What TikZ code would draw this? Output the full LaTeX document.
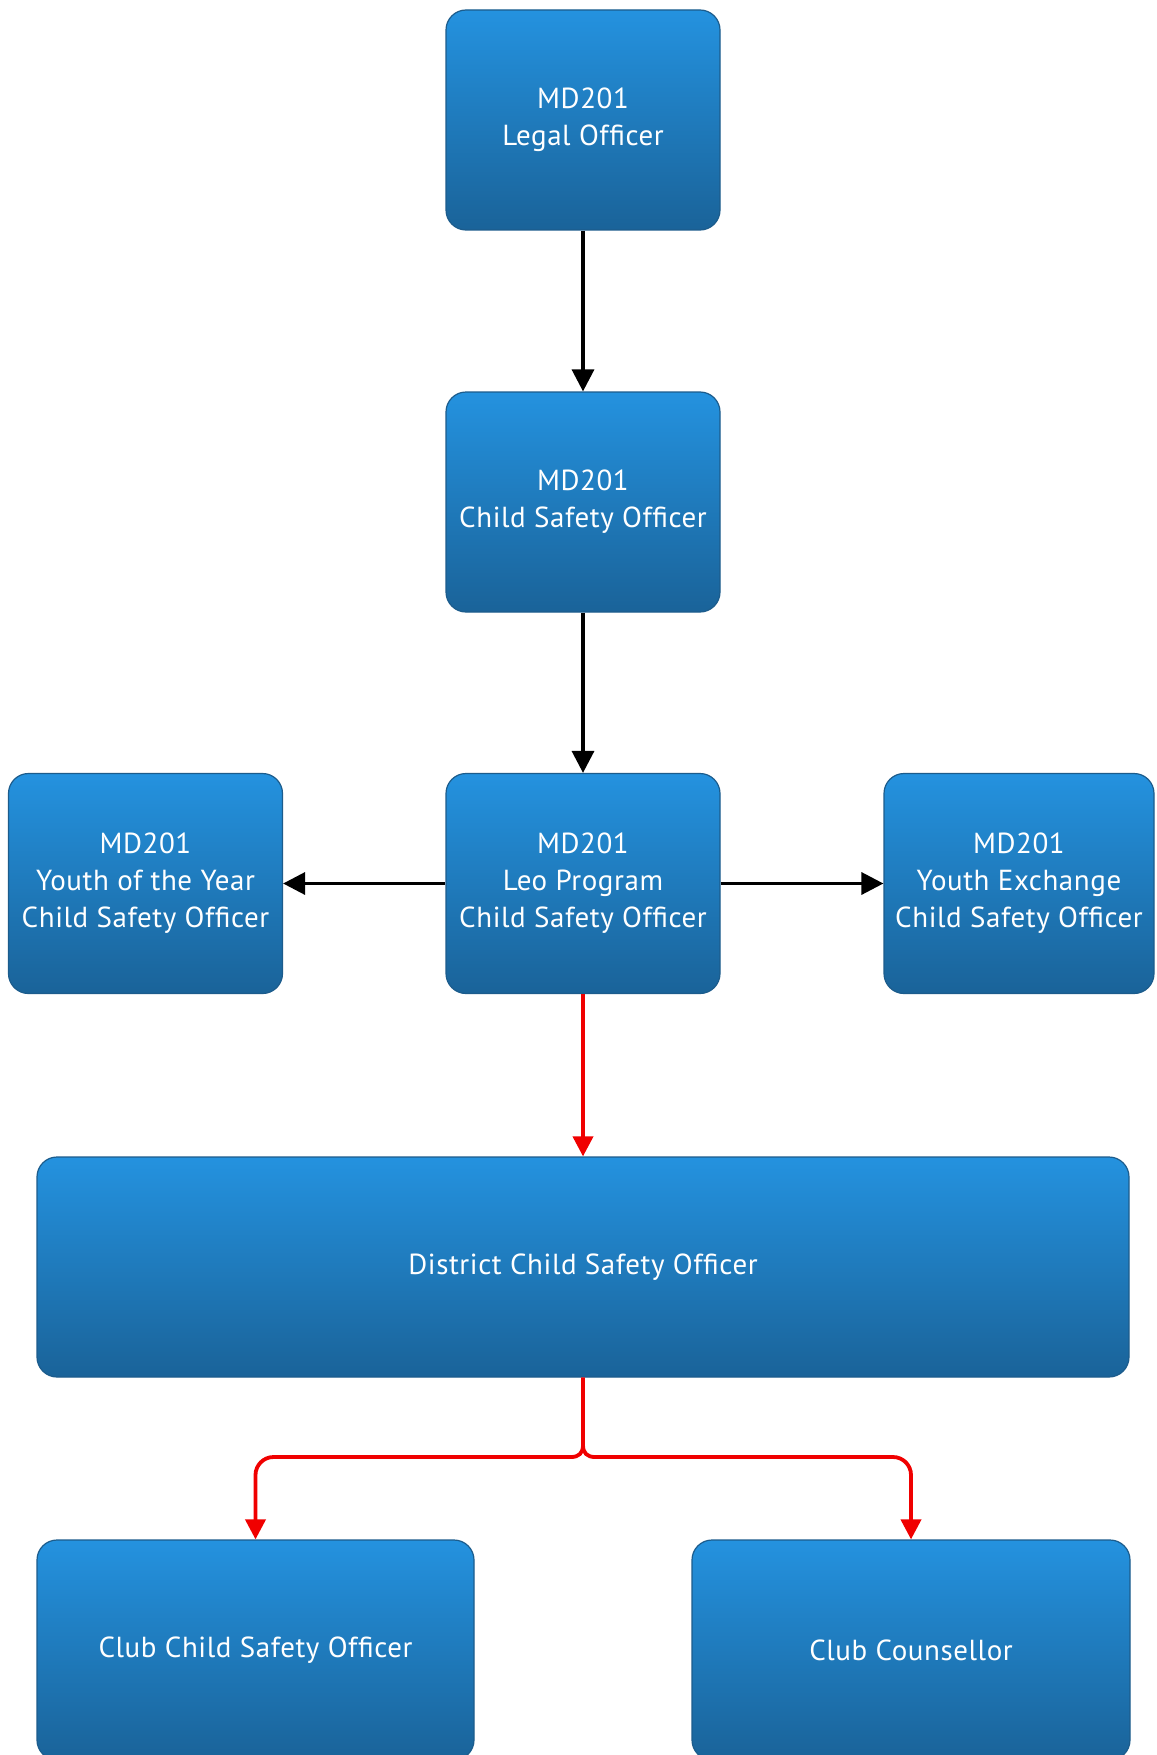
\documentclass[tikz,border=0pt]{standalone}
\usepackage{fontspec}
\setmainfont[LetterSpace=2]{PT Sans}
\usetikzlibrary{arrows.meta}
\definecolor{boxtop}{RGB}{36,146,223}
\definecolor{boxbot}{RGB}{26,99,153}
\definecolor{boxline}{RGB}{28,92,140}
\definecolor{linkred}{RGB}{240,0,0}
\begin{document}
\begin{tikzpicture}[x=0.5pt,y=-0.5pt,
  orgbox/.style={rectangle, rounded corners=10pt, draw=boxline, line width=0.6pt,
    top color=boxtop, bottom color=boxbot, text=white, align=center,
    font=\fontsize{14.5}{18.5}\selectfont, inner sep=0pt,
    minimum width=137pt, minimum height=110pt},
  blackarrow/.style={line width=1.7pt, black, -{Triangle[length=11pt,width=11pt]}},
  redarrow/.style={line width=1.9pt, linkred, -{Triangle[length=10pt,width=10pt]}}]
\useasboundingbox (0,0) rectangle (1156,1755);
\fill[white] (0,0) rectangle (1156,1755);
\node[orgbox] (legal) at (583,120) {MD201\\Legal Officer};
\node[orgbox] (child) at (583,502) {MD201\\Child Safety Officer};
\node[orgbox] (leo) at (583,883.5) {MD201\\Leo Program\\Child Safety Officer};
\node[orgbox] (yoty) at (145.5,883.5) {MD201\\Youth of the Year\\Child Safety Officer};
\node[orgbox, minimum width=135pt] (yex) at (1019,883.5) {MD201\\Youth Exchange\\Child Safety Officer};
\node[orgbox, minimum width=546pt] (dist) at (583,1267) {District Child Safety Officer};
\node[orgbox, minimum width=218.5pt] (ccso) at (255.5,1650) {Club Child Safety Officer};
\node[orgbox, minimum width=219pt] (cc) at (911,1650) {Club Counsellor};
\draw[blackarrow] (legal.south) -- (child.north);
\draw[blackarrow] (child.south) -- (leo.north);
\draw[blackarrow] (leo.west) -- (yoty.east);
\draw[blackarrow] (leo.east) -- (yex.east -| yex.west);
\draw[redarrow] (leo.south) -- (dist.north);
\coordinate (j) at (583,1457);
\draw[redarrow] (dist.south) -- (583,1445) .. controls (583,1453) and (579,1457) .. (571,1457) [rounded corners=9pt] -| (ccso.north);
\draw[redarrow] (dist.south) -- (583,1445) .. controls (583,1453) and (587,1457) .. (595,1457) [rounded corners=9pt] -| (cc.north);
\end{tikzpicture}
\end{document}
